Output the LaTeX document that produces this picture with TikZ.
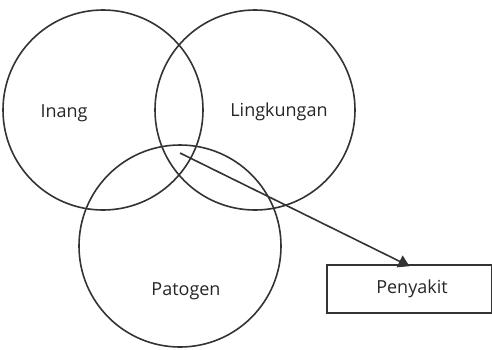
\documentclass[tikz,border=0pt]{standalone}
\usepackage{fontspec}
\setmainfont{Open Sans}
\usetikzlibrary{arrows.meta}
\begin{document}
\begin{tikzpicture}[x=1pt,y=-1pt,
  ring/.style={draw=black!80,line width=1.6pt,circle,minimum size=200pt,inner sep=0pt},
  lbl/.style={font=\fontsize{18}{21}\selectfont,text=black!85},
  boxstyle/.style={draw=black!80,line width=1.6pt,minimum width=165pt,minimum height=48pt,inner sep=0pt,font=\fontsize{18}{21}\selectfont,text=black!85},
  arr/.style={draw=black!80,line width=1.6pt,-{Triangle[length=11pt,width=13pt]}}]
\useasboundingbox (0,0) rectangle (492,349);
\node[ring] (inang) at (103,110) {};
\node[ring] (lingk) at (255,110) {};
\node[ring,minimum size=202pt] (pato) at (180,246) {};
\node[lbl] (tinang) at (64,113) {Inang};
\node[lbl] (tlingk) at (279,112) {Lingkungan};
\node[lbl] (tpato) at (186,291) {Patogen};
\node[boxstyle] (peny) at (409.5,289) {\hspace*{5pt}Penyakit};
\coordinate (start) at (180,153);
\draw[arr] (start) -- ([yshift=-2pt]peny.north);
\end{tikzpicture}
\end{document}
